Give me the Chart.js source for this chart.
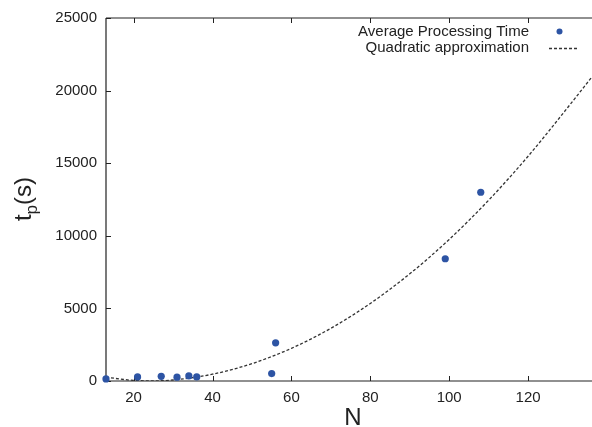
<!DOCTYPE html>
<html>
<head>
<meta charset="utf-8">
<script src="https://cdn.jsdelivr.net/npm/chart.js@4/dist/chart.umd.min.js"></script>
<style>
  html, body { margin: 0; padding: 0; background: #fff; overflow: hidden; }
  #wrap { width: 596px; height: 427px; position: relative; }
</style>
</head>
<body>
<div id="wrap"><canvas id="timeChart"></canvas></div>
<script>
// measured processing times
const sizeN = [13, 21, 27, 31, 34, 36, 55, 56, 99, 108];
const procTime = [140, 280, 320, 260, 350, 280, 510, 2630, 8420, 13000];

// quadratic approximation, sampled along the curve
const fitN = [13, 20, 25, 30, 40, 50, 60, 70, 80, 90, 100, 110, 120, 130, 136.2];
const fitTime = [260, 40, 10, 70, 470, 1195, 2250, 3630, 5340, 7380, 9750, 12450, 15480, 18820, 20950];

const xTicks = [20, 40, 60, 80, 100, 120];
const yTicks = [0, 5000, 10000, 15000, 20000, 25000];

const FONT = '"Liberation Sans", Arial, Helvetica, sans-serif';
const INK = '#222';
const DOT = '#2d54a4';

// axes frame with inward tick marks, plus top mirror line
const framePlugin = {
  id: 'frame',
  beforeDatasetsDraw(chart) {
    const { ctx, chartArea: a, scales } = chart;
    ctx.save();
    ctx.strokeStyle = INK;
    ctx.lineWidth = 1.2;
    ctx.beginPath();
    ctx.moveTo(a.left, a.top);
    ctx.lineTo(a.left, a.bottom);
    ctx.lineTo(a.right, a.bottom);
    ctx.moveTo(a.left, a.top);
    ctx.lineTo(a.right, a.top);
    ctx.stroke();
    ctx.lineWidth = 1;
    ctx.beginPath();
    xTicks.forEach(v => {
      const x = Math.round(scales.x.getPixelForValue(v)) + 0.5;
      ctx.moveTo(x, a.bottom);
      ctx.lineTo(x, a.bottom - 5);
      ctx.moveTo(x, a.top);
      ctx.lineTo(x, a.top + 5);
    });
    yTicks.forEach(v => {
      const y = Math.round(scales.y.getPixelForValue(v)) + 0.5;
      ctx.moveTo(a.left, y);
      ctx.lineTo(a.left + 5, y);
    });
    ctx.stroke();
    ctx.restore();
  }
};

// axis titles (the y title carries a subscript) and the key
const labelPlugin = {
  id: 'labels',
  afterDraw(chart) {
    const { ctx } = chart;
    ctx.save();
    ctx.fillStyle = INK;

    ctx.font = '24px ' + FONT;
    ctx.textAlign = 'center';
    ctx.textBaseline = 'alphabetic';
    ctx.fillText('N', 353, 425);

    ctx.translate(31, 199);
    ctx.rotate(-Math.PI / 2);
    ctx.textAlign = 'left';
    ctx.font = '24px ' + FONT;
    const wT = ctx.measureText('t').width;
    const wS = ctx.measureText('(s)').width;
    ctx.font = '17px ' + FONT;
    const wP = ctx.measureText('p').width;
    let x = -(wT + wP + wS) / 2;
    ctx.font = '24px ' + FONT;
    ctx.fillText('t', x, 0);
    x += wT;
    ctx.font = '17px ' + FONT;
    ctx.fillText('p', x, 6);
    x += wP;
    ctx.font = '24px ' + FONT;
    ctx.fillText('(s)', x, 0);
    ctx.restore();

    ctx.save();
    ctx.fillStyle = INK;
    ctx.font = '15px ' + FONT;
    ctx.textAlign = 'right';
    ctx.textBaseline = 'middle';
    ctx.fillText('Average Processing Time', 529, 32);
    ctx.fillText('Quadratic approximation', 529, 48);
    ctx.fillStyle = DOT;
    ctx.beginPath();
    ctx.arc(559.5, 31.5, 3, 0, Math.PI * 2);
    ctx.fill();
    ctx.strokeStyle = '#333';
    ctx.lineWidth = 1.3;
    ctx.setLineDash([3, 2]);
    ctx.beginPath();
    ctx.moveTo(549, 48.5);
    ctx.lineTo(579, 48.5);
    ctx.stroke();
    ctx.restore();
  }
};

const ctx = document.getElementById('timeChart').getContext('2d');
new Chart(ctx, {
  type: 'scatter',
  data: {
    datasets: [{
      label: 'Average Processing Time',
      data: sizeN.map((n, i) => ({ x: n, y: procTime[i] })),
      backgroundColor: DOT,
      borderColor: DOT,
      pointRadius: 3.6,
      pointBorderWidth: 0,
      clip: false
    }, {
      type: 'line',
      label: 'Quadratic approximation',
      data: fitN.map((n, i) => ({ x: n, y: fitTime[i] })),
      borderColor: '#333',
      borderWidth: 1.3,
      borderDash: [3, 2],
      pointRadius: 0,
      fill: false,
      cubicInterpolationMode: 'monotone'
    }]
  },
  options: {
    responsive: true,
    maintainAspectRatio: false,
    animation: false,
    layout: { padding: { top: 18, right: 0, left: 0, bottom: 0 } },
    plugins: {
      legend: { display: false },
      tooltip: { enabled: false }
    },
    scales: {
      x: {
        type: 'linear',
        min: 13,
        max: 136.2,
        grid: { display: false, drawTicks: false },
        border: { display: false },
        afterBuildTicks(scale) { scale.ticks = xTicks.map(v => ({ value: v })); },
        afterFit(scale) { scale.height = 46; },
        ticks: {
          color: INK,
          font: { family: FONT, size: 15 },
          padding: 8,
          maxRotation: 0,
          callback: v => String(v)
        }
      },
      y: {
        min: 0,
        max: 25000,
        grid: { display: false, drawTicks: false },
        border: { display: false },
        afterBuildTicks(scale) { scale.ticks = yTicks.map(v => ({ value: v })); },
        afterFit(scale) { scale.width = 106; },
        ticks: {
          color: INK,
          font: { family: FONT, size: 15 },
          padding: 9,
          callback: v => String(v)
        }
      }
    }
  },
  plugins: [framePlugin, labelPlugin]
});
</script>
</body>
</html>
